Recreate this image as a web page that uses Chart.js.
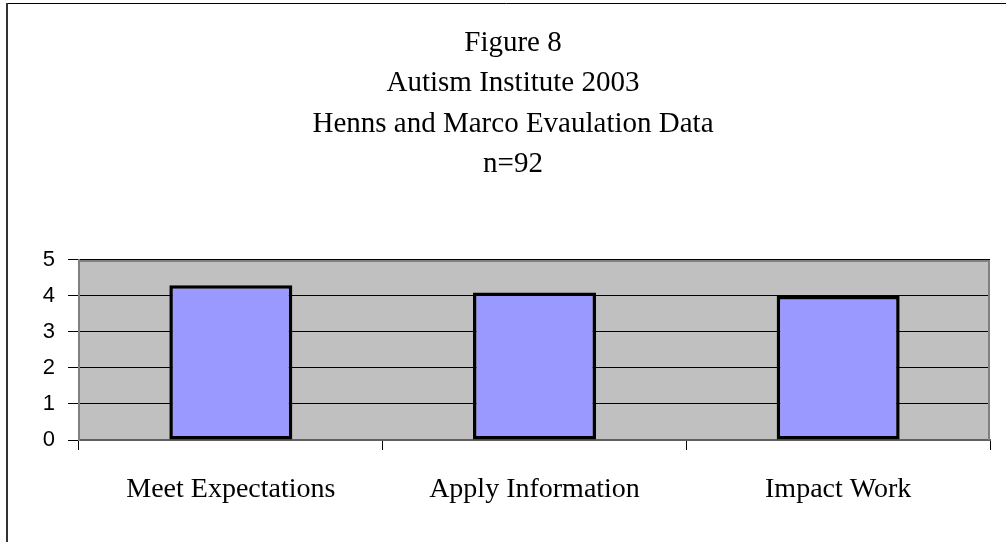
<!DOCTYPE html>
<html>
<head>
<meta charset="utf-8">
<script src="https://cdn.jsdelivr.net/npm/chart.js@4"></script>
<style>
  html, body { margin: 0; padding: 0; background: #fff; }
  #wrap { width: 1006px; height: 542px; }
</style>
</head>
<body>
<div id="wrap"><canvas id="myChart" width="1006" height="542"></canvas></div>
<script>
// data
var categories = ['Meet Expectations', 'Apply Information', 'Impact Work'];
var ratings = [4.3, 4.1, 4.0];
var titleLines = ['Figure 8', 'Autism Institute 2003', 'Henns and Marco Evaulation Data', 'n=92'];
var yMin = 0, yMax = 5, yStep = 1;

// gray plot background + frame, and the outer page frame
var framePlugin = {
    id: 'frame',
    beforeDraw: function (chart) {
        var c = chart.ctx, a = chart.chartArea;
        c.save();
        c.fillStyle = '#C0C0C0';
        c.fillRect(a.left, a.top, a.right - a.left, a.bottom - a.top);
        c.restore();
    },
    afterDraw: function (chart) {
        var c = chart.ctx, a = chart.chartArea;
        c.save();
        c.strokeStyle = '#808080';
        c.lineWidth = 2;
        c.beginPath();
        c.moveTo(a.left, a.top + 1);
        c.lineTo(a.right - 1, a.top + 1);
        c.lineTo(a.right - 1, a.bottom);
        c.stroke();
        // outer frame
        c.strokeStyle = '#000';
        c.lineWidth = 1;
        c.beginPath();
        c.moveTo(1006, 3.5);
        c.lineTo(7, 3.5);
        c.stroke();
        c.strokeStyle = '#333';
        c.lineWidth = 2;
        c.beginPath();
        c.moveTo(7, 3);
        c.lineTo(7, 542);
        c.stroke();
        c.restore();
    }
};

var ctx = document.getElementById('myChart').getContext('2d');
var myChart = new Chart(ctx, {
    type: 'bar',
    data: {
        labels: categories,
        datasets: [{
            label: 'Rating',
            data: ratings,
            backgroundColor: '#9999FF',
            borderColor: '#000000',
            borderWidth: 3.5,
            borderSkipped: false,
            categoryPercentage: 1.0,
            barPercentage: 0.405
        }]
    },
    options: {
        responsive: false,
        animation: false,
        layout: { padding: { left: 36, right: 16, top: 0, bottom: 0 } },
        plugins: {
            legend: { display: false },
            tooltip: { enabled: false },
            title: {
                display: true,
                text: titleLines,
                color: '#000',
                font: { family: '"Liberation Serif", "Times New Roman", serif', size: 29, weight: 'normal', lineHeight: 1.393 },
                padding: { top: 23, bottom: 75.4 }
            }
        },
        scales: {
            x: {
                offset: true,
                grid: {
                    offset: true,
                    drawOnChartArea: false,
                    drawTicks: true,
                    tickLength: 10,
                    color: '#000'
                },
                border: { display: true, color: '#606060', width: 2 },
                ticks: {
                    color: '#000',
                    padding: 23,
                    maxRotation: 0,
                    font: { family: '"Liberation Serif", "Times New Roman", serif', size: 28 }
                },
                afterFit: function (scale) { scale.height = 102; }
            },
            y: {
                min: yMin,
                max: yMax,
                grid: {
                    color: '#000',
                    lineWidth: 1,
                    drawTicks: true,
                    tickLength: 11
                },
                border: { display: true, color: '#808080', width: 2 },
                ticks: {
                    stepSize: yStep,
                    color: '#000',
                    padding: 13,
                    font: { family: '"Liberation Sans", Arial, sans-serif', size: 22 }
                },
                afterFit: function (scale) { scale.width = 43; }
            }
        }
    },
    plugins: [framePlugin]
});
</script>
</body>
</html>
